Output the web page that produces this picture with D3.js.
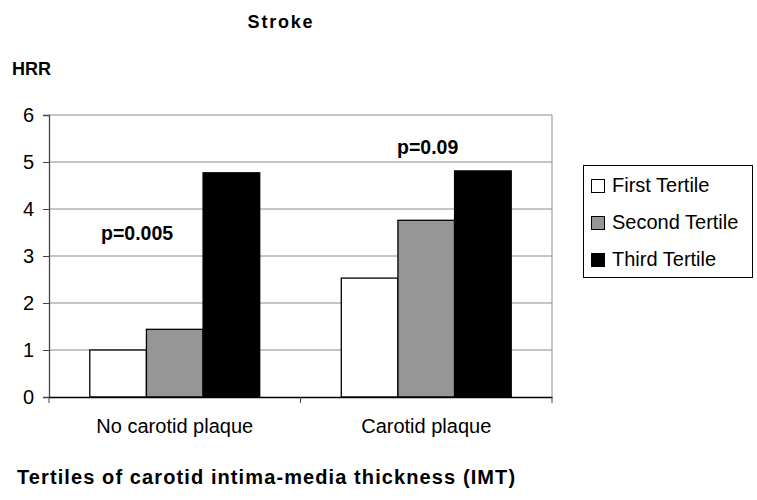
<!DOCTYPE html>
<html><head><meta charset="utf-8">
<script src="https://cdn.jsdelivr.net/npm/d3@7"></script>
<style>body{margin:0;background:#fff}svg{display:block;font-family:Arial,"Liberation Sans",sans-serif}</style>
</head><body><svg id="c" width="757" height="500"></svg>
<script>
const categories = ["No carotid plaque", "Carotid plaque"];
const seriesNames = ["First Tertile", "Second Tertile", "Third Tertile"];
const seriesColors = ["#ffffff", "#969696", "#000000"];
const firstTertile = [1.0, 2.53];
const secondTertile = [1.44, 3.76];
const thirdTertile = [4.77, 4.81];
const yTicks = [0, 1, 2, 3, 4, 5, 6];
const pLabels = ["p=0.005", "p=0.09"];
const series = [firstTertile, secondTertile, thirdTertile];

const FONT = "Arial,'Liberation Sans',sans-serif";
const svg = d3.select("#c");
const L = 49, R = 552, T = 115, B = 397;
const x = d3.scaleBand().domain(categories).range([L, R]).paddingInner(0).paddingOuter(0);
const y = d3.scaleLinear().domain([0, 6]).range([B, T]);
const inner = d3.scaleBand().domain(d3.range(series.length)).range([0, x.bandwidth()]).paddingInner(0).paddingOuter(0.72);

// gridlines
svg.append("g").selectAll("line").data(yTicks.filter(d => d > 0)).join("line")
  .attr("x1", L).attr("x2", R).attr("y1", d => y(d)).attr("y2", d => y(d))
  .attr("stroke", "#8c8c8c").attr("stroke-width", 1);
// right border
svg.append("line").attr("x1", R).attr("x2", R).attr("y1", T).attr("y2", B).attr("stroke", "#8c8c8c");

// bars
series.forEach((vals, si) => {
  svg.append("g").selectAll("rect").data(vals).join("rect")
    .attr("x", (d, i) => x(categories[i]) + inner(si))
    .attr("y", d => y(d))
    .attr("width", inner.bandwidth())
    .attr("height", d => B - y(d))
    .attr("fill", seriesColors[si])
    .attr("stroke", "#000").attr("stroke-width", 1.3);
});

// y axis
const ya = svg.append("g").attr("transform", `translate(${L},0)`)
  .call(d3.axisLeft(y).tickValues(yTicks).tickSize(6).tickPadding(9).tickFormat(d3.format("d")));
ya.select(".domain").attr("stroke", "#444").attr("stroke-width", 1.3);
ya.selectAll(".tick line").attr("stroke", "#444");
ya.selectAll("text").attr("font-size", 20).attr("fill", "#000").attr("font-family", FONT);

// x axis
const xa = svg.append("g").attr("transform", `translate(0,${B})`)
  .call(d3.axisBottom(x).tickSize(0).tickPadding(22));
xa.select(".domain").attr("stroke", "#000").attr("stroke-width", 1.5);
xa.selectAll("text").attr("font-size", 20).attr("fill", "#000").attr("font-family", FONT);
// category boundary ticks
svg.append("g").selectAll("line").data([L, x(categories[1]), R]).join("line")
  .attr("x1", d => d).attr("x2", d => d).attr("y1", B).attr("y2", B + 6).attr("stroke", "#444");

// p labels
svg.append("text").attr("x", 101).attr("y", 240)
  .attr("font-size", 19.5).attr("font-weight", "bold").text(pLabels[0]);
svg.append("text").attr("x", 397).attr("y", 154)
  .attr("font-size", 19.5).attr("font-weight", "bold").text(pLabels[1]);

// titles
svg.append("text").attr("x", 281).attr("y", 28).attr("text-anchor", "middle")
  .attr("font-size", 18).attr("font-weight", "bold").attr("letter-spacing", 1.8).text("Stroke");
svg.append("text").attr("x", 12).attr("y", 75)
  .attr("font-size", 18).attr("font-weight", "bold").text("HRR");
svg.append("text").attr("x", 17).attr("y", 484)
  .attr("font-size", 20).attr("font-weight", "bold").attr("letter-spacing", 1.1)
  .text("Tertiles of carotid intima-media thickness (IMT)");

// legend
const lg = svg.append("g");
lg.append("rect").attr("x", 583.5).attr("y", 165.5).attr("width", 169).attr("height", 112)
  .attr("fill", "#fff").attr("stroke", "#000");
const lb = [192, 229, 266];
seriesNames.forEach((n, i) => {
  lg.append("rect").attr("x", 591.5).attr("y", lb[i] - 12.5).attr("width", 13).attr("height", 13)
    .attr("fill", seriesColors[i]).attr("stroke", "#000");
  lg.append("text").attr("x", 612).attr("y", lb[i]).attr("font-size", 20).text(n);
});
</script></body></html>
